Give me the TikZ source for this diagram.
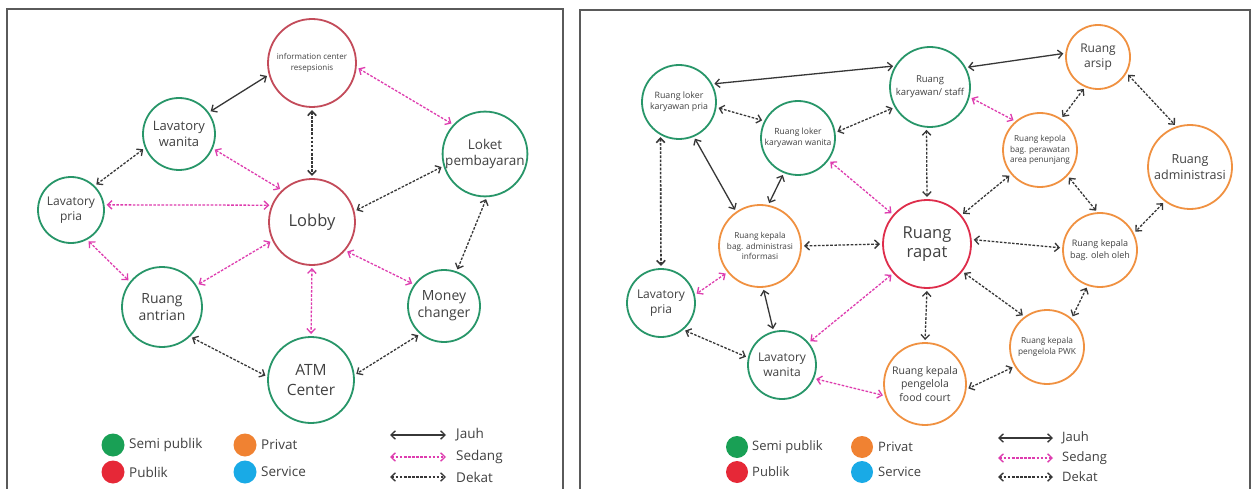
\documentclass[tikz,border=0pt]{standalone}
\usepackage{fontspec}
\setmainfont{Open Sans}
\usetikzlibrary{arrows.meta}
\definecolor{cgreen}{RGB}{40,150,105}
\definecolor{cred}{RGB}{195,75,90}
\definecolor{cred2}{RGB}{222,45,75}
\definecolor{corange}{RGB}{240,145,65}
\definecolor{cpink}{RGB}{222,60,175}
\definecolor{cdark}{RGB}{55,55,55}
\definecolor{txt}{RGB}{65,65,65}
\definecolor{lgreen}{RGB}{25,160,85}
\definecolor{lred}{RGB}{230,40,55}
\definecolor{lorange}{RGB}{240,130,50}
\definecolor{lblue}{RGB}{25,170,230}
\definecolor{frm}{RGB}{90,90,90}
\tikzset{
  room/.style={circle, draw, line width=1.8pt, inner sep=0pt, outer sep=0pt, align=center, text=txt},
  semi/.style={room, draw=cgreen},
  pub/.style={room, draw=cred},
  pub2/.style={room, draw=cred2},
  priv/.style={room, draw=corange},
  fs/.style 2 args={font=\fontsize{#1}{#2}\selectfont},
  con/.style={line width=1.3pt, shorten <=3pt, shorten >=3pt,
    {Straight Barb[length=4.5pt,width=8.5pt]}-{Straight Barb[length=4.5pt,width=8.5pt]}},
  jauh/.style={con, draw=cdark},
  sedang/.style={con, draw=cpink, dash pattern=on 2.6pt off 1.5pt},
  dekat/.style={con, draw=cdark, dash pattern=on 2.6pt off 1.5pt},
  frame/.style={draw=frm, line width=1.4pt},
  dot/.style={circle, inner sep=0pt, minimum size=23pt},
  legtxt/.style={anchor=west, text=txt, inner sep=0pt},
}
\begin{document}
\begin{tikzpicture}[x=1pt, y=-1pt]
\fill[white] (0,0) rectangle (1252,489);
\useasboundingbox (0,0) rectangle (1252,489);
% frames
\draw[frame] (7,495) -- (7,9) -- (563,9) -- (563,495);
\draw[frame] (580,495) -- (580,10) -- (1250,10) -- (1250,495);

% ===== LEFT PANEL =====
\node[pub, minimum size=88pt, fs={8}{11}] (ic) at (312,63) {information center\\resepsionis};
\node[semi, minimum size=72pt, fs={13}{16}] (lw) at (179,134) {Lavatory\\wanita};
\node[semi, minimum size=80pt, fs={13.5}{16.5}] (lk) at (485,154) {Loket\\pembayaran};
\node[semi, minimum size=66pt, fs={12}{15}] (lp) at (71,210) {Lavatory\\pria};
\node[pub, minimum size=86pt, fs={16.5}{19}] (lb) at (312,222) {Lobby};
\node[semi, minimum size=80pt, fs={14}{17}] (ra) at (162,307) {Ruang\\antrian};
\node[semi, minimum size=72pt, fs={14}{17}] (mc) at (444,306) {Money\\changer};
\node[semi, minimum size=86pt, fs={15.5}{20}] (atm) at (311,380) {ATM\\Center};

\draw[jauh] (ic.195) -- (lw.36);
\draw[sedang] (ic.-5) -- (lk.137);
\draw[dekat, line width=1.6pt] (ic.south) -- (lb.north);
\draw[dekat] (lw.202) -- (lp.46);
\draw[sedang] (lw.-23) -- (lb.133);
\draw[sedang] (lp.9) -- (lb.157);
\draw[sedang] (lp.-62) -- (ra.142);
\draw[sedang] (lb.205) -- (ra.32);
\draw[dekat] (lb.14) -- (lk.196);
\draw[sedang] (lb.south) -- (atm.north);
\draw[sedang] (lb.-41) -- (mc.144);
\draw[dekat] (lk.-87) -- (mc.70);
\draw[dekat] (ra.-47) -- (atm.176);
\draw[dekat] (mc.230) -- (atm.6);

% legend left
\node[dot, fill=lgreen] (lg1) at (113,445) {};
\node[dot, fill=lred] (lg2) at (113,472) {};
\node[dot, fill=lorange] (lg3) at (245,445) {};
\node[dot, fill=lblue] (lg4) at (245,472) {};
\node[legtxt, fs={13.5}{16}] (lt1) at (129,445) {Semi publik};
\node[legtxt, fs={13.5}{16}] (lt2) at (129,472) {Publik};
\node[legtxt, fs={13.5}{16}] (lt3) at (261,445) {Privat};
\node[legtxt, fs={13.5}{16}] (lt4) at (261,472) {Service};
\coordinate (la1) at (390,435); \coordinate (lb1) at (446,435);
\coordinate (la2) at (390,457); \coordinate (lb2) at (446,457);
\coordinate (la3) at (390,477); \coordinate (lb3) at (446,477);
\draw[jauh, shorten <=0pt, shorten >=0pt] (la1) -- (lb1);
\draw[sedang, shorten <=0pt, shorten >=0pt] (la2) -- (lb2);
\draw[dekat, shorten <=0pt, shorten >=0pt] (la3) -- (lb3);
\node[legtxt, fs={13.5}{16}] (lj1) at (456,435) {Jauh};
\node[legtxt, fs={13.5}{16}] (lj2) at (456,457) {Sedang};
\node[legtxt, fs={13.5}{16}] (lj3) at (456,477) {Dekat};

% ===== RIGHT PANEL =====
\node[semi, minimum size=74pt, fs={8.8}{11}] (rlp) at (679,102) {Ruang loker\\karyawan pria};
\node[semi, minimum size=74pt, fs={8.5}{11}] (rlw) at (798,138) {Ruang loker\\karyawan wanita};
\node[semi, minimum size=80pt, fs={9.5}{13}] (rks) at (930,87) {Ruang\\karyawan/ staff};
\node[priv, minimum size=64pt, fs={12}{15}] (rar) at (1098,57) {Ruang\\arsip};
\node[priv, minimum size=74pt, fs={8.2}{10.5}] (rkp) at (1040,150) {Ruang kepola\\bag. perawatan\\area penunjang};
\node[priv, minimum size=84pt, fs={12.5}{15.5}] (rad) at (1190,167) {Ruang\\administrasi};
\node[pub2, minimum size=88pt, fs={16.5}{19}] (rrp) at (927,244) {Ruang\\rapat};
\node[priv, minimum size=82pt, fs={8.2}{10.5}] (rai) at (760,246) {Ruang kepala\\bag. administrasi\\informasi};
\node[priv, minimum size=74pt, fs={9}{12}] (rko) at (1100,250) {Ruang kepala\\bag. oleh oleh};
\node[priv, minimum size=74pt, fs={8.3}{11}] (rpwk) at (1047,347) {Ruang kepala\\pengelola PWK};
\node[priv, minimum size=82pt, fs={10.5}{13.5}] (rfc) at (925,384) {Ruang kepala\\pengelola\\food court};
\node[semi, minimum size=68pt, fs={12}{15}] (rlvp) at (661,303) {Lavatory\\pria};
\node[semi, minimum size=68pt, fs={12}{15}] (rlvw) at (782,365) {Lavatory\\wanita};

\draw[jauh] (rlp.29) -- (rks.148);
\draw[jauh] (rks.29) -- (rar.173);
\draw[dekat] (rlp.-8) -- (rlw.153);
\draw[dekat] (rlw.8) -- (rks.210);
\draw[jauh] (rlp.-67) -- (rai.125);
\draw[jauh] (rlw.-112) -- (rai.79);
\draw[sedang] (rlw.-36) -- (rrp.139);
\draw[sedang] (rks.-14) -- (rkp.130);
\draw[dekat] (rks.265) -- (rrp.north);
\draw[dekat] (rar.-113) -- (rkp.56);
\draw[dekat] (rar.-29) -- (rad.108);
\draw[dekat] (rkp.220) -- (rrp.40);
\draw[dekat] (rkp.-43) -- (rko.93);
\draw[dekat] (rad.234) -- (rko.26);
\draw[dekat] (rrp.6) -- (rko.177);
\draw[dekat] (rai.east) -- (rrp.west);
\draw[dekat, line width=1.6pt] (rlp.240) -- (rlvp.north);
\draw[sedang] (rai.219) -- (rlvp.13);
\draw[jauh] (rai.-86) -- (rlvw.104);
\draw[dekat] (rlvp.-51) -- (rlvw.168);
\draw[sedang] (rrp.221) -- (rlvw.40);
\draw[sedang] (rlvw.-23) -- (rfc.197);
\draw[dekat] (rrp.south) -- (rfc.north);
\draw[dekat] (rrp.-38) -- (rpwk.126);
\draw[dekat] (rko.-109) -- (rpwk.49);
\draw[dekat] (rpwk.211) -- (rfc.-8);

% legend right
\node[dot, fill=lgreen, minimum size=22pt] (rg1) at (737,447) {};
\node[dot, fill=lred, minimum size=22pt] (rg2) at (737,472) {};
\node[dot, fill=lorange, minimum size=22pt] (rg3) at (862,447) {};
\node[dot, fill=lblue, minimum size=22pt] (rg4) at (862,472) {};
\node[legtxt, fs={13}{16}] (rt1) at (752,447) {Semi publik};
\node[legtxt, fs={13}{16}] (rt2) at (752,472) {Publik};
\node[legtxt, fs={13}{16}] (rt3) at (878,447) {Privat};
\node[legtxt, fs={13}{16}] (rt4) at (878,472) {Service};
\coordinate (ra1) at (998,438); \coordinate (rb1) at (1053,438);
\coordinate (ra2) at (998,458); \coordinate (rb2) at (1053,458);
\coordinate (ra3) at (998,477); \coordinate (rb3) at (1053,477);
\draw[jauh, shorten <=0pt, shorten >=0pt] (ra1) -- (rb1);
\draw[sedang, shorten <=0pt, shorten >=0pt] (ra2) -- (rb2);
\draw[dekat, shorten <=0pt, shorten >=0pt] (ra3) -- (rb3);
\node[legtxt, fs={13}{16}] (rj1) at (1062,438) {Jauh};
\node[legtxt, fs={13}{16}] (rj2) at (1062,458) {Sedang};
\node[legtxt, fs={13}{16}] (rj3) at (1062,477) {Dekat};
\end{tikzpicture}
\end{document}
